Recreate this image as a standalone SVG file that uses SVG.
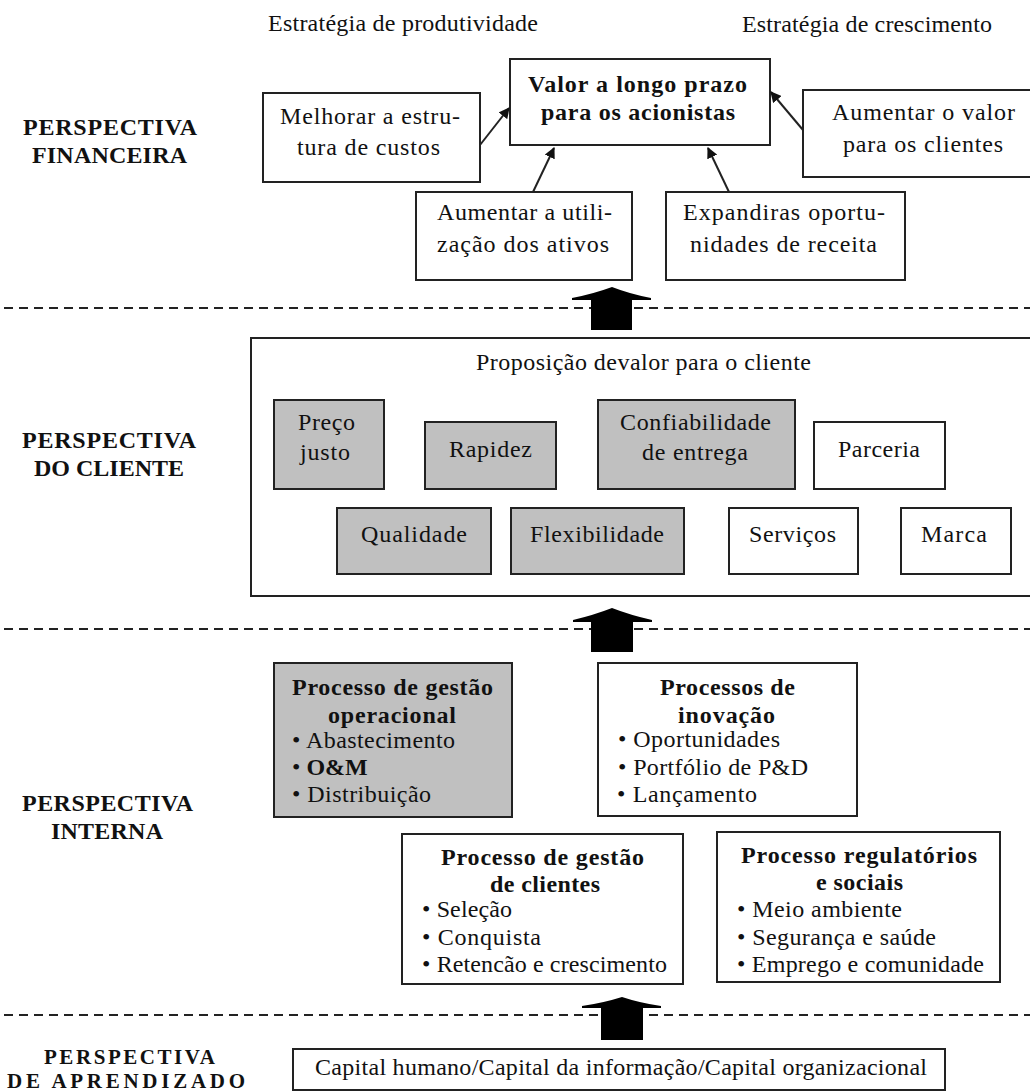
<svg xmlns="http://www.w3.org/2000/svg" width="1030" height="1092" viewBox="0 0 1030 1092">
<style>
.bg{fill:#fff}
.box{fill:#fff;stroke:#222;stroke-width:2}
.gray{fill:#c0c0c0;stroke:#222;stroke-width:2}
.t{font-family:"Liberation Serif","Times New Roman",serif;font-size:24px;fill:#111}
.b{font-weight:bold}
.s{font-size:21px}
.dash{stroke:#222;stroke-width:2;stroke-dasharray:9 6;fill:none}
.thin{stroke:#222;stroke-width:2;fill:none;marker-end:url(#ah)}
.block{fill:#000}
</style>
<defs>
<marker id="ah" viewBox="0 0 10 10" refX="9" refY="5" markerWidth="5.5" markerHeight="5.5" orient="auto" markerUnits="strokeWidth">
<path d="M0,0 L10,5 L0,10 Z" fill="#111"/>
</marker>
</defs>
<rect class="bg" x="0" y="0" width="1030" height="1092"/>

<g id="labels">
<text class="t" x="268" y="31" textLength="270">Estratégia de produtividade</text>
<text class="t" x="742" y="32" textLength="250">Estratégia de crescimento</text>
<text class="t b" x="23" y="135" textLength="174">PERSPECTIVA</text>
<text class="t b" x="32" y="163" textLength="155">FINANCEIRA</text>
<text class="t b" x="22" y="448" textLength="174">PERSPECTIVA</text>
<text class="t b" x="34" y="476" textLength="150">DO CLIENTE</text>
<text class="t b" x="22" y="811" textLength="171">PERSPECTIVA</text>
<text class="t b" x="51" y="839" textLength="112">INTERNA</text>
<text class="t b s" x="44" y="1064" textLength="171">PERSPECTIVA</text>
<text class="t b s" x="7" y="1088" textLength="238">DE APRENDIZADO</text>
</g>

<g id="separators">
<line class="dash" x1="4" y1="308" x2="1030" y2="308"/>
<line class="dash" x1="4" y1="629" x2="1030" y2="629"/>
<line class="dash" x1="4" y1="1015" x2="1030" y2="1015"/>
</g>

<g id="valor">
<rect class="box" x="510" y="59" width="260" height="86"/>
<text class="t b" x="528" y="92" textLength="219">Valor a longo prazo</text>
<text class="t b" x="541" y="120" textLength="194">para os acionistas</text>
</g>
<g id="melhorar">
<rect class="box" x="263" y="93" width="217" height="89"/>
<text class="t" x="280" y="124" textLength="180">Melhorar a estru-</text>
<text class="t" x="297" y="155" textLength="143">tura de custos</text>
</g>
<g id="aumentar-valor">
<rect class="box" x="803" y="90" width="241" height="87"/>
<text class="t" x="832" y="120" textLength="183">Aumentar o valor</text>
<text class="t" x="843" y="152" textLength="160">para os clientes</text>
</g>
<g id="utilizacao">
<rect class="box" x="416" y="192" width="216" height="88"/>
<text class="t" x="437" y="220" textLength="175">Aumentar a utili-</text>
<text class="t" x="437" y="252" textLength="172">zação dos ativos</text>
</g>
<g id="expandir">
<rect class="box" x="666" y="192" width="239" height="88"/>
<text class="t" x="683" y="220" textLength="202">Expandiras oportu-</text>
<text class="t" x="690" y="252" textLength="187">nidades de receita</text>
</g>

<g id="cliente">
<rect class="box" x="251" y="338" width="785" height="258"/>
<text class="t" x="476" y="370" textLength="335">Proposição devalor para o cliente</text>
</g>
<g id="preco">
<rect class="gray" x="274" y="400" width="110" height="89"/>
<text class="t" x="298" y="430" textLength="57">Preço</text>
<text class="t" x="300" y="460" textLength="50">justo</text>
</g>
<g id="rapidez">
<rect class="gray" x="425" y="422" width="131" height="67"/>
<text class="t" x="449" y="457" textLength="83">Rapidez</text>
</g>
<g id="confiabilidade">
<rect class="gray" x="598" y="400" width="197" height="89"/>
<text class="t" x="620" y="430" textLength="151">Confiabilidade</text>
<text class="t" x="642" y="460" textLength="106">de entrega</text>
</g>
<g id="parceria">
<rect class="box" x="814" y="422" width="131" height="67"/>
<text class="t" x="838" y="457" textLength="82">Parceria</text>
</g>
<g id="qualidade">
<rect class="gray" x="337" y="508" width="154" height="66"/>
<text class="t" x="361" y="542" textLength="106">Qualidade</text>
</g>
<g id="flexibilidade">
<rect class="gray" x="511" y="508" width="173" height="66"/>
<text class="t" x="530" y="542" textLength="134">Flexibilidade</text>
</g>
<g id="servicos">
<rect class="box" x="729" y="508" width="129" height="66"/>
<text class="t" x="749" y="542" textLength="87">Serviços</text>
</g>
<g id="marca">
<rect class="box" x="901" y="508" width="110" height="66"/>
<text class="t" x="921" y="542" textLength="66">Marca</text>
</g>

<g id="operacional">
<rect class="gray" x="274" y="663" width="238" height="154"/>
<text class="t b" x="292" y="695" textLength="201">Processo de gestão</text>
<text class="t b" x="328" y="723" textLength="128">operacional</text>
<text class="t" x="292" y="748" textLength="163">• Abastecimento</text>
<text class="t" x="292" y="775">• <tspan class="b">O&amp;M</tspan></text>
<text class="t" x="292" y="802" textLength="139">• Distribuição</text>
</g>
<g id="inovacao">
<rect class="box" x="598" y="663" width="259" height="153"/>
<text class="t b" x="660" y="695" textLength="135">Processos de</text>
<text class="t b" x="678" y="723" textLength="97">inovação</text>
<text class="t" x="618" y="747" textLength="162">• Oportunidades</text>
<text class="t" x="618" y="775" textLength="190">• Portfólio de P&amp;D</text>
<text class="t" x="617" y="802" textLength="140">• Lançamento</text>
</g>
<g id="gestao-clientes">
<rect class="box" x="402" y="834" width="281" height="150"/>
<text class="t b" x="441" y="865" textLength="203">Processo de gestão</text>
<text class="t b" x="490" y="892" textLength="110">de clientes</text>
<text class="t" x="422" y="917" textLength="90">• Seleção</text>
<text class="t" x="422" y="945" textLength="119">• Conquista</text>
<text class="t" x="422" y="972" textLength="245">• Retencão e crescimento</text>
</g>
<g id="regulatorios">
<rect class="box" x="717" y="832" width="283" height="150"/>
<text class="t b" x="741" y="863" textLength="236">Processo regulatórios</text>
<text class="t b" x="816" y="890" textLength="87">e sociais</text>
<text class="t" x="737" y="917" textLength="165">• Meio ambiente</text>
<text class="t" x="737" y="945" textLength="199">• Segurança e saúde</text>
<text class="t" x="737" y="972" textLength="247">• Emprego e comunidade</text>
</g>

<g id="capital">
<rect class="box" x="293" y="1049" width="652" height="41"/>
<text class="t" x="315" y="1075" textLength="612">Capital humano/Capital da informação/Capital organizacional</text>
</g>

<g id="connectors">
<line class="thin" x1="480" y1="145" x2="509" y2="108"/>
<line class="thin" x1="803" y1="130" x2="771" y2="92"/>
<line class="thin" x1="533" y1="192" x2="554" y2="148"/>
<line class="thin" x1="729" y1="192" x2="708" y2="148"/>
<path class="block" d="M612,287 Q630,294 651,298 L651,300 L632,300 L632,330 L591,330 L591,300 L572,300 L572,298 Q593,294 612,287 Z"/>
<path class="block" d="M612,608 Q630,615 652,620 L652,622 L633,622 L633,652 L591,652 L591,622 L573,622 L573,620 Q594,615 612,608 Z"/>
<path class="block" d="M622,997 Q640,1003 661,1006 L661,1008 L643,1008 L643,1040 L601,1040 L601,1008 L582,1008 L582,1006 Q603,1003 622,997 Z"/>
</g>
</svg>
